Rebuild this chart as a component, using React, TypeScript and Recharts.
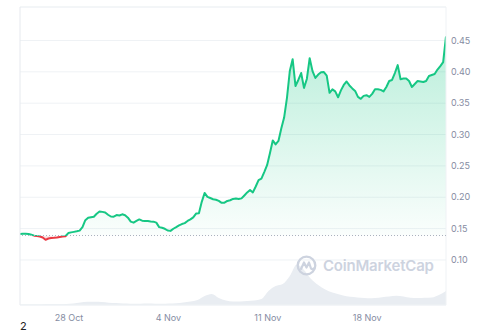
import { ComposedChart, Area, XAxis, YAxis, CartesianGrid, ReferenceLine } from "recharts";

// price in USD, one reading every 0.2 day, starting ~3.45 days before 28 Oct
const PRICE = [
  0.1413, 0.1418, 0.1419, 0.1415, 0.1402, 0.1388, 0.1383, 0.1374, 0.1358, 0.1321,
  0.1342, 0.135, 0.1353, 0.1358, 0.1366, 0.1374, 0.1378, 0.1429, 0.144, 0.1448,
  0.1457, 0.1468, 0.1524, 0.1634, 0.1674, 0.1682, 0.169, 0.1737, 0.1772, 0.1767,
  0.1756, 0.1721, 0.1693, 0.169, 0.1716, 0.1709, 0.1728, 0.1713, 0.1674, 0.1611,
  0.1595, 0.1622, 0.1647, 0.1626, 0.162, 0.1623, 0.1615, 0.1611, 0.1595, 0.1524,
  0.1513, 0.1497, 0.147, 0.1464, 0.1498, 0.1524, 0.1552, 0.1573, 0.1588, 0.1622,
  0.1647, 0.1679, 0.174, 0.1745, 0.1927, 0.2069, 0.2007, 0.1988, 0.1969, 0.1961,
  0.1942, 0.1911, 0.1914, 0.1942, 0.1952, 0.1974, 0.1979, 0.1971, 0.1982, 0.2029,
  0.2077, 0.2116, 0.2077, 0.2172, 0.2274, 0.2298, 0.2401, 0.2511, 0.2701, 0.2906,
  0.2843, 0.2898, 0.3096, 0.327, 0.3586, 0.4012, 0.4202, 0.3775, 0.387, 0.3981,
  0.3744, 0.3886, 0.4218, 0.4012, 0.3902, 0.3957, 0.3993, 0.3996, 0.3941, 0.3665,
  0.372, 0.3688, 0.3594, 0.3704, 0.3791, 0.3846, 0.3783, 0.3736, 0.3696, 0.3601,
  0.357, 0.3617, 0.3627, 0.3601, 0.3649, 0.3723, 0.3723, 0.3712, 0.3688, 0.3759,
  0.3854, 0.387, 0.3981, 0.4107, 0.3881, 0.3893, 0.3893, 0.3854, 0.3759, 0.3807,
  0.3854, 0.3846, 0.3838, 0.3854, 0.3933, 0.3949, 0.3965, 0.4036, 0.4091, 0.4154,
  0.4565,
];

// 24h volume (relative units), one reading every 0.5 day
const VOLUME = [
  0.5, 0.5, 0.5, 0.5, 0.7, 0.8, 0.8, 1.2, 2, 3,
  3.3, 3.2, 2.8, 2, 1.8, 1.5, 1.3, 1.3, 1.5, 1.3,
  1.2, 1.4, 1.8, 2.5, 3.5, 5, 9, 11, 7, 4.5,
  3.5, 3.5, 4, 4.5, 6, 14, 19, 21, 29, 40.5,
  35, 26, 20, 15.5, 12.5, 10.5, 8.8, 8, 7.2, 6.8,
  7, 7.8, 8.5, 9.3, 8.5, 7.3, 7, 7.2, 7.5, 10,
  14,
];

const START = -3.45; // days relative to 28 Oct
const PRICE_STEP = 0.2;
const VOLUME_STEP = 0.5;
const OPEN_PRICE = 0.139;

const X_TICKS = [0, 7, 14, 21];
const X_LABELS = ["28 Oct", "4 Nov", "11 Nov", "18 Nov"];
const Y_TICKS = [0.1, 0.15, 0.2, 0.25, 0.3, 0.35, 0.4, 0.45];

const GREEN = "#16c784";
const RED = "#ea3943";
const GRID = "#eff2f5";
const LABEL = "#858ca2";

const priceData = PRICE.map((p, i) => ({ t: START + i * PRICE_STEP, price: p }));
const volumeData = VOLUME.map((v, i) => ({ t: START + i * VOLUME_STEP, volume: v }));
const END = START + (PRICE.length - 1) * PRICE_STEP;
const Y_MAX = 0.5034;

const maxP = Math.max(...PRICE);
const minP = Math.min(...PRICE);
const split = (maxP - OPEN_PRICE) / (maxP - Math.min(minP, OPEN_PRICE));

const CmcMark = () => (
  <div style={{ position: "absolute", left: 296, top: 255, display: "flex", alignItems: "center", gap: 6 }}>
    <svg width="21" height="21" viewBox="0 0 21 21">
      <circle cx="10.5" cy="10.5" r="8.8" fill="none" stroke="#cdd3df" strokeWidth="2.3" />
      <path d="M5 14 L8 7.5 L10.5 12.5 L13 7.5 L15 13.5 Q16 15 17.5 13.5" fill="none" stroke="#cdd3df" strokeWidth="2.2" strokeLinejoin="round" strokeLinecap="round" />
    </svg>
    <span style={{ fontFamily: "Inter, sans-serif", fontWeight: 600, fontSize: 15, color: "#cdd3df", letterSpacing: -0.2 }}>
      CoinMarketCap
    </span>
  </div>
);

export default function App() {
  return (
    <div style={{ position: "absolute", left: 0, top: 0, width: 500, height: 333, background: "#fff", fontFamily: "Inter, sans-serif" }}>
      <ComposedChart width={500} height={333} margin={{ top: 7, right: 0, bottom: 0, left: 20 }}>
        <defs>
          <linearGradient id="priceStroke" x1="0" y1="0" x2="0" y2="1">
            <stop offset={0} stopColor={GREEN} />
            <stop offset={split} stopColor={GREEN} />
            <stop offset={split} stopColor={RED} />
            <stop offset={1} stopColor={RED} />
          </linearGradient>
          <linearGradient id="priceFill" x1="0" y1="0" x2="0" y2="1">
            <stop offset={0} stopColor={GREEN} stopOpacity={0.3} />
            <stop offset={split} stopColor={GREEN} stopOpacity={0.02} />
            <stop offset={split} stopColor={RED} stopOpacity={0.1} />
            <stop offset={1} stopColor={RED} stopOpacity={0.25} />
          </linearGradient>
        </defs>
        <CartesianGrid vertical={false} stroke={GRID} yAxisId="price" />
        <XAxis
          dataKey="t"
          type="number"
          domain={[START, END]}
          ticks={X_TICKS}
          tickFormatter={(v) => X_LABELS[X_TICKS.indexOf(v)]}
          height={28}
          axisLine={{ stroke: GRID }}
          tickLine={false}
          tickSize={6}
          tickMargin={4}
          tick={{ fill: LABEL, fontSize: 9 }}
          allowDataOverflow
        />
        <YAxis
          yAxisId="price"
          orientation="right"
          type="number"
          domain={[0.0282, Y_MAX]}
          ticks={Y_TICKS}
          tickFormatter={(v) => v.toFixed(2)}
          width={54}
          axisLine={false}
          tickLine={false}
          tickSize={3}
          tickMargin={2}
          tick={{ fill: LABEL, fontSize: 9, textAnchor: "start" }}
          allowDataOverflow
        />
        <YAxis yAxisId="vol" hide domain={[0, 298]} />
        <ReferenceLine yAxisId="price" y={Y_MAX} stroke={GRID} />
        <ReferenceLine yAxisId="price" x={START} stroke="#e6e9ee" />
        <ReferenceLine yAxisId="price" x={END} stroke={GRID} />
        <Area
          yAxisId="vol"
          data={volumeData}
          dataKey="volume"
          type="monotone"
          stroke="none"
          fill="#e9edf2"
          fillOpacity={1}
          isAnimationActive={false}
        />
        <ReferenceLine yAxisId="price" y={OPEN_PRICE} stroke="#aab1bd" strokeDasharray="1 2" />
        <Area
          yAxisId="price"
          data={priceData}
          dataKey="price"
          type="linear"
          baseValue={OPEN_PRICE}
          stroke="url(#priceStroke)"
          strokeWidth={2}
          strokeLinejoin="round"
          fill="url(#priceFill)"
          fillOpacity={1}
          dot={false}
          activeDot={false}
          isAnimationActive={false}
        />
      </ComposedChart>
      <CmcMark />
      <div style={{ position: "absolute", left: 20, top: 321, fontSize: 11, lineHeight: "11px", color: "#222", fontFamily: "Inter, sans-serif" }}>2</div>
    </div>
  );
}
